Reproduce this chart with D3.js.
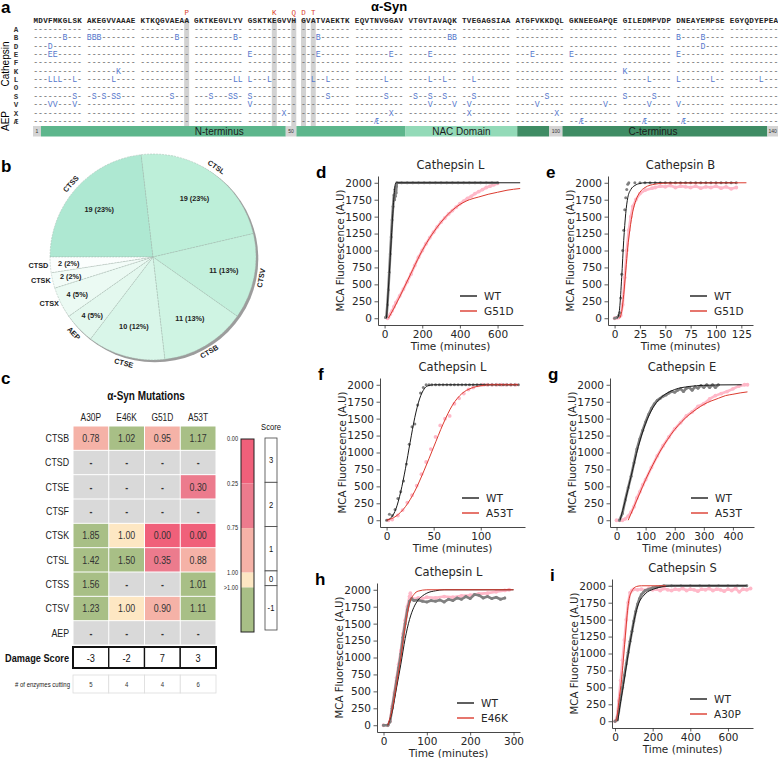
<!DOCTYPE html>
<html><head><meta charset="utf-8">
<script src="https://cdn.jsdelivr.net/npm/d3@7"></script>
<style>body{margin:0;background:#fff}svg{display:block}</style>
</head><body><svg id="fig" width="778" height="758"></svg>
<script>
// ================= DATA =================
// Panel a
const seqBlocks = ["MDVFMKGLSK","AKEGVVAAAE","KTKQGVAEAA","GKTKEGVLYV","GSKTKEGVVH","GVATVAEKTK","EQVTNVGGAV","VTGVTAVAQK","TVEGAGSIAA","ATGFVKKDQL","GKNEEGAPQE","GILEDMPVDP","DNEAYEMPSE","EGYQDYEPEA"];
const enzymeRows = ["A","B","D","E","F","K","L","O","S","V","X","Æ"];
const cleavagePositions = [
  [],
  [7,11,12,13,28,39,54,79,80,121,126],
  [4,126],
  [4,5,41,54,68,75,94,101,121],
  [],
  [17,111],
  [4,5,6,9,16,39,40,41,45,53,56,67,75,78,83,116,121,128,137],
  [],
  [9,12,14,16,17,27,34,38,39,41,56,67,72,75,78,83,97,111,117],
  [4,5,9,41,75,80,82,95,108,116,121],
  [48,68,82,99],
  [65,103,115,122]
];
const mutPositions = [30,46,50,51,53];
const mutLetters = ["P","K","Q","D","T"];
const domainStarts = [1,2.5,48.5,50.5,71,92,98,100.5,139];
const domainEnds   = [2.5,48.5,50.5,71,92,98,100.5,139,141];
const domainKinds  = ["box","N","box","N","NAC","C","box","C","box"];
const domainBoxText = ["1","","50","","","","100","","140"];
const domainLabels = ["N-terminus","NAC Domain","C-terminus"];
const domainLabelAt = [36,81.5,117.5];

// Panel b
const pieLabels = ["CTSS","CTSL","CTSV","CTSB","CTSE","AEP","CTSX","CTSK","CTSD"];
const pieValues = [19,19,11,11,10,4,4,2,2];

// Panel c
const mutations = ["A30P","E46K","G51D","A53T"];
const enzymesC = ["CTSB","CTSD","CTSE","CTSF","CTSK","CTSL","CTSS","CTSV","AEP"];
const ratios = [
  [0.78,1.02,0.95,1.17],
  [null,null,null,null],
  [null,null,null,0.30],
  [null,null,null,null],
  [1.85,1.00,0.00,0.00],
  [1.42,1.50,0.35,0.88],
  [1.56,null,null,1.01],
  [1.23,1.00,0.90,1.11],
  [null,null,null,null]
];
const damageScore = [-3,-2,7,3];
const enzymesCutting = [5,4,4,6];
const cbLabels = ["0.00","0.25","0.75","1.00",">1.00"];
const scoreLabels = ["3","2","1","0","-1"];
const yTicksKin = [0,250,500,750,1000,1250,1500,1750,2000];

// Panel d  Cathepsin L  WT vs G51D
const dWTPts = [[5,10],[10,30],[15,200],[20,420],[25,680],[30,950],[35,1200],[40,1450],[45,1650],[50,1820],[53,1750],[55,1900],[57,1800],[59,1930],[61,1850],[63,1950],[65,2000],[90,2000],[120,2000],[150,2000],[180,2000],[210,2000],[240,2000],[270,2000],[300,2000],[330,2000],[360,2000],[390,2000],[420,2000],[450,2000],[480,2000],[510,2000],[540,2000],[570,2000],[600,2000]];
const dWTFit = [[10,0],[20,430],[30,900],[40,1380],[50,1800],[57,1980],[62,2000],[720,2000]];
const dMutPts = [[15,0],[20,10],[30,60],[40,110],[50,170],[60,230],[80,330],[100,430],[120,540],[140,650],[160,780],[180,900],[200,1000],[220,1100],[240,1190],[260,1270],[280,1350],[300,1420],[320,1480],[340,1540],[360,1590],[380,1640],[400,1690],[420,1730],[440,1770],[460,1800],[480,1840],[500,1870],[520,1900],[540,1930],[560,1950],[580,1970],[600,1990]];
const dMutFit = [[20,0],[50,150],[100,430],[150,720],[200,1000],[250,1230],[300,1420],[350,1570],[400,1680],[450,1750],[500,1790],[550,1830],[600,1860],[650,1890],[720,1915]];

// Panel e  Cathepsin B  WT vs G51D
const eWTPts = [[0,0],[2,10],[4,40],[5,80],[6,300],[7,650],[8,1000],[9,1300],[10,1600],[11,1780],[12,1900],[13,1980],[14,2000],[20,2000],[25,2000],[30,2000],[35,2000],[40,2000],[45,2000],[50,2000],[55,2000],[60,2000],[65,2000],[70,2000],[75,2000],[80,2000],[85,2000],[90,2000],[95,2000],[100,2000],[105,2000],[110,2000],[115,2000],[120,2000]];
const eWTFit = [[3,0],[5,150],[7,600],[9,1150],[11,1550],[13,1780],[16,1900],[20,1960],[25,1990],[30,2000],[120,2000]];
const eMutPts = [[0,0],[2,5],[4,10],[6,40],[8,200],[10,600],[12,1000],[14,1300],[16,1500],[18,1650],[21,1750],[25,1840],[30,1890],[37,1920],[40,1930],[45,1950],[50,1940],[55,1960],[60,1930],[65,1950],[70,1940],[75,1930],[80,1950],[85,1920],[90,1940],[95,1930],[100,1950],[105,1920],[110,1940],[115,1910],[120,1930]];
const eMutFit = [[5,0],[7,100],[9,350],[11,700],[13,1050],[15,1300],[18,1580],[21,1740],[25,1860],[30,1930],[40,1980],[50,1995],[130,2000]];

// Panel f  Cathepsin L  WT vs A53T
const fWTPts = [[0,0],[3,90],[6,70],[9,160],[12,320],[15,420],[18,580],[21,830],[24,1120],[27,1380],[30,1420],[33,1700],[36,1880],[39,1960],[42,2000],[45,2000],[48,2000],[52,2000],[56,2000],[60,2000],[64,2000],[68,2000],[72,2000],[76,2000],[80,2000],[84,2000],[88,2000],[92,2000],[96,2000],[100,2000],[104,2000],[108,2000],[112,2000],[116,2000],[120,2000],[124,2000],[128,2000],[132,2000],[136,2000],[140,2000]];
const fWTFit = [[0,0],[5,40],[10,170],[15,420],[20,760],[25,1150],[30,1520],[35,1790],[40,1940],[45,1990],[50,2000],[140,2000]];
const fMutPts = [[2,0],[6,10],[12,70],[17,150],[22,260],[27,370],[32,510],[37,680],[42,860],[47,1050],[52,1230],[57,1400],[62,1500],[67,1540],[72,1720],[77,1800],[82,1870],[87,1930],[92,1960],[97,1990],[102,2000],[107,2000],[112,2000],[117,2000],[122,2000],[127,2000],[132,2000],[137,2000]];
const fMutFit = [[0,0],[10,60],[20,200],[30,430],[40,740],[50,1080],[60,1420],[70,1700],[80,1870],[90,1950],[100,1985],[110,2000],[140,2000]];

// Panel g  Cathepsin E  WT vs A53T
const gWTPts = [[10,0],[20,100],[30,300],[40,480],[50,650],[60,850],[70,1050],[80,1200],[90,1330],[100,1450],[110,1560],[120,1650],[130,1720],[140,1770],[150,1800],[160,1830],[170,1850],[180,1880],[190,1900],[200,1890],[210,1920],[220,1940],[230,1900],[240,1950],[250,1960],[260,1920],[270,1970],[280,1950],[290,1990],[300,1960],[310,2000],[320,1960],[330,2000],[340,1960],[350,2000]];
const gWTFit = [[12,0],[30,290],[50,650],[75,1090],[100,1430],[125,1660],[150,1800],[175,1880],[200,1930],[250,1975],[300,1992],[350,1998],[430,2000]];
const gMutPts = [[0,0],[10,0],[20,0],[30,20],[40,60],[50,120],[60,200],[70,330],[80,420],[90,520],[100,600],[120,780],[140,950],[160,1100],[180,1230],[200,1350],[220,1440],[240,1540],[260,1600],[280,1680],[300,1720],[320,1790],[340,1840],[360,1870],[380,1900],[400,1940],[420,1980],[440,2000],[450,2000]];
const gMutFit = [[40,0],[60,200],[80,400],[100,600],[125,820],[150,1020],[175,1190],[200,1340],[225,1460],[250,1560],[275,1640],[300,1710],[325,1760],[350,1800],[375,1840],[400,1860],[425,1880],[450,1895]];

// Panel h  Cathepsin L  WT vs E46K
const hWTPts = [[0,0],[10,0],[15,50],[20,250],[25,450],[30,650],[35,850],[40,1050],[45,1300],[50,1500],[55,1700],[60,1830],[65,1870],[70,1840],[80,1850],[90,1830],[100,1820],[110,1840],[120,1830],[130,1850],[140,1820],[150,1860],[160,1840],[170,1880],[180,1860],[190,1900],[200,1870],[210,1930],[220,1920],[230,1880],[240,1900],[250,1870],[260,1890],[270,1860],[280,1880]];
const hWTFit = [[10,0],[20,200],[30,550],[40,900],[50,1280],[60,1560],[70,1740],[80,1850],[90,1910],[100,1950],[120,1985],[140,2000],[300,2000]];
const hMutPts = [[0,0],[10,0],[15,60],[20,280],[25,480],[30,700],[35,900],[40,1100],[45,1350],[50,1550],[55,1750],[60,1900],[62,1950],[65,1880],[70,1860],[80,1880],[90,1870],[100,1890],[120,1880],[140,1900],[160,1890],[180,1910],[200,1920],[220,1940],[240,1950],[260,1970],[280,1990],[290,2000]];
const hMutFit = [[10,0],[20,230],[30,600],[40,1000],[50,1450],[60,1800],[70,1930],[80,1980],[100,2000],[300,2000]];

// Panel i  Cathepsin S  WT vs A30P
const iWTPts = [[0,0],[10,20],[20,150],[30,330],[40,500],[50,680],[60,850],[70,1020],[80,1180],[90,1330],[100,1480],[110,1620],[120,1730],[130,1810],[140,1870],[150,1900],[160,1930],[180,1950],[200,1970],[220,1980],[240,1990],[260,2000],[300,2000],[350,2000],[400,2000],[450,2000],[500,2000],[550,2000],[600,2000],[650,2000],[700,2000]];
const iWTFit = [[15,0],[25,200],[45,540],[80,1160],[115,1650],[160,1880],[205,1950],[260,1990],[320,2000],[700,2000]];
const iMutPts = [[0,0],[10,50],[20,300],[30,600],[40,900],[50,1200],[60,1500],[70,1750],[80,1900],[90,1930],[100,1950],[120,1940],[140,1950],[160,1930],[180,1960],[200,1940],[220,1950],[240,1930],[260,1960],[280,1940],[300,1930],[320,1950],[340,1940],[360,1960],[380,1930],[400,1950],[420,1940],[440,1920],[460,1950],[480,1940],[500,1960],[520,1930],[540,1950],[560,1940],[580,1920],[600,1950],[620,1930],[640,1960],[660,1910],[680,1950],[700,1940],[720,1960]];
const iMutFit = [[5,0],[12,80],[20,280],[35,620],[53,1200],[71,1740],[88,1915],[115,1990],[140,2000],[270,2000]];

// ================= DRAWING =================
const svg = d3.select('#fig');
const SANS = "'Liberation Sans', Arial, sans-serif";
const MONO = "'Liberation Mono','DejaVu Sans Mono',monospace";
const DJV = "'DejaVu Sans', sans-serif";

function panelLetter(t, x, y) {
  svg.append('text').attr('x', x).attr('y', y).text(t)
    .attr('font-family', SANS).attr('font-weight', 'bold').attr('font-size', 17).attr('fill', '#000');
}
// condensed text (horizontally squeezed Liberation Sans)
function ntext(g, x, y, s, size, anchor, weight, fill) {
  return g.append('text').attr('transform', `translate(${x},${y}) scale(0.8,1)`)
    .attr('text-anchor', anchor || 'middle').attr('font-family', SANS)
    .attr('font-weight', weight || 'normal').attr('font-size', size).attr('fill', fill || '#222').text(s);
}

// ---------- Panel a ----------
(function () {
  const g = svg.append('g');
  panelLetter('a', 1, 13);
  g.append('text').attr('x', 389).attr('y', 11).attr('text-anchor', 'middle')
    .attr('font-family', SANS).attr('font-weight', 'bold').attr('font-size', 13).text('α-Syn');
  const seq = seqBlocks.join('').split('');
  const colOf = r => (r - 1) + Math.floor((r - 1) / 10);
  const seqX = d3.scaleLinear().domain([0, 152]).range([35.7, 775.9]);
  const rowY = d3.scaleBand().domain(enzymeRows).range([25, 125.5]);

  g.selectAll('rect.mb').data(mutPositions).join('rect')
    .attr('x', d => seqX(colOf(d)) - 2.5).attr('width', 5).attr('y', 19).attr('height', 107)
    .attr('fill', '#d2d2d2');
  g.selectAll('text.ml').data(mutPositions).join('text')
    .attr('x', d => seqX(colOf(d))).attr('y', 15).attr('text-anchor', 'middle')
    .attr('font-family', MONO).attr('font-size', 7.5).attr('fill', '#d9412b')
    .text((d, i) => mutLetters[i]);
  g.selectAll('text.hs').data(seq).join('text')
    .attr('x', (d, i) => seqX(colOf(i + 1))).attr('y', 22.5).attr('text-anchor', 'middle')
    .attr('font-family', MONO).attr('font-size', 7.6).attr('font-weight', 'bold').attr('fill', '#222')
    .text(d => d);
  enzymeRows.forEach((en, ri) => {
    const cuts = new Set(cleavagePositions[ri]);
    const yc = rowY(en) + rowY.bandwidth() / 2;
    g.append('text').attr('x', 16).attr('y', yc + 2.6).attr('text-anchor', 'middle')
      .attr('font-family', MONO).attr('font-size', 7.5).attr('font-weight', 'bold').attr('fill', '#333').text(en);
    const chars = d3.range(1, 141).map(r => ({ r, c: cuts.has(r) ? en : '-' }));
    g.selectAll(null).data(chars).join('text')
      .attr('x', d => seqX(colOf(d.r))).attr('y', yc + 2.6).attr('text-anchor', 'middle')
      .attr('font-family', MONO).attr('font-size', 8.2)
      .attr('fill', d => d.c === '-' ? '#6a6a6a' : '#5577cc')
      .text(d => d.c);
  });
  g.append('text').attr('transform', 'translate(9,64) rotate(-90)').attr('text-anchor', 'middle')
    .attr('font-family', SANS).attr('font-size', 10).text('Cathepsin');
  g.append('text').attr('transform', 'translate(9,121) rotate(-90)').attr('text-anchor', 'middle')
    .attr('font-family', SANS).attr('font-size', 10).text('AEP');
  const barX = d3.scaleLinear().domain([1, 141]).range([33, 778]);
  const domColor = { box: '#d4d4d4', N: '#5db68c', NAC: '#93dab8', C: '#3f8c64' };
  domainStarts.forEach((s, i) => {
    g.append('rect').attr('x', barX(s)).attr('width', barX(domainEnds[i]) - barX(s))
      .attr('y', 126).attr('height', 10.5).attr('fill', domColor[domainKinds[i]]);
    if (domainBoxText[i]) {
      g.append('text').attr('x', (barX(s) + barX(domainEnds[i])) / 2).attr('y', 133.2).attr('text-anchor', 'middle')
        .attr('font-family', SANS).attr('font-size', 5).attr('fill', '#333').text(domainBoxText[i]);
    }
  });
  domainLabels.forEach((l, i) => {
    g.append('text').attr('x', barX(domainLabelAt[i])).attr('y', 134.8).attr('text-anchor', 'middle')
      .attr('font-family', SANS).attr('font-size', 10).attr('fill', '#1c1c1c').text(l);
  });
})();

// ---------- Panel b ----------
(function () {
  panelLetter('b', 1, 172);
  const cx = 153, cy = 257, R = 103;
  const g = svg.append('g').attr('transform', `translate(${cx},${cy})`);
  const pieColors = ['#aee8d2', '#bdefd9', '#c3f0dc', '#cff4e3', '#d9f6e9', '#e3f8ee', '#ebfaf3', '#f3fcf8', '#fbfefd'];
  const total = d3.sum(pieValues);
  const arcs = d3.pie().sort(null).startAngle(-Math.PI / 2).endAngle(1.5 * Math.PI)(pieValues);
  const arc = d3.arc().innerRadius(0).outerRadius(R);
  g.append('circle').attr('cx', 1.8).attr('cy', 1.8).attr('r', R + 0.5).attr('fill', '#9c9c9c');
  g.selectAll('path').data(arcs).join('path').attr('d', arc)
    .attr('fill', (d, i) => pieColors[i]).attr('stroke', '#9fb5ab').attr('stroke-width', 0.45)
    .attr('stroke-dasharray', '2,1');
  arcs.forEach((a, i) => {
    const mid = (a.startAngle + a.endAngle) / 2;
    const rr = pieValues[i] >= 10 ? 0.7 * R : 0.82 * R;
    g.append('text').attr('x', Math.sin(mid) * rr).attr('y', -Math.cos(mid) * rr + 2.5)
      .attr('text-anchor', 'middle').attr('font-family', SANS).attr('font-weight', 'bold')
      .attr('font-size', 7.3).attr('fill', '#222')
      .text(`${pieValues[i]} (${Math.round(pieValues[i] / total * 100)}%)`);
    const degN = (((mid * 180 / Math.PI) % 360) + 360) % 360;
    if (degN > 235 && degN < 300) {
      const lr = R + 2;
      g.append('text').attr('x', Math.sin(mid) * lr).attr('y', -Math.cos(mid) * lr + 2.5)
        .attr('text-anchor', 'end').attr('font-family', SANS).attr('font-weight', 'bold')
        .attr('font-size', 7.3).attr('fill', '#222').text(pieLabels[i]);
    } else {
      const lr = R + 7;
      let rot = degN;
      if (degN > 90 && degN < 270) rot = degN - 180;
      g.append('text').attr('transform', `translate(${Math.sin(mid) * lr},${-Math.cos(mid) * lr}) rotate(${rot})`)
        .attr('text-anchor', 'middle').attr('dy', '0.35em').attr('font-family', SANS).attr('font-weight', 'bold')
        .attr('font-size', 7.3).attr('fill', '#222').text(pieLabels[i]);
    }
  });
})();

// ---------- Panel c ----------
(function () {
  panelLetter('c', 1, 384);
  const g = svg.append('g');
  ntext(g, 146, 400, 'α-Syn Mutations', 12.5, 'middle', 'bold', '#111');
  const hmX = d3.scaleBand().domain(mutations).range([73, 216]);
  const hmY = d3.scaleBand().domain(enzymesC).range([426, 645]);
  const thr = d3.scaleThreshold().domain([0.25, 0.75, 1.0, 1.000001])
    .range(['#f0607a', '#ec7b8d', '#f5b2a7', '#fde7c3', '#a8bf86']);
  const colorOf = v => v === null ? '#d9d9d9' : thr(v);
  mutations.forEach(m => ntext(g, hmX(m) + hmX.bandwidth() / 2, 421, m, 10.5));
  enzymesC.forEach((e, ri) => {
    ntext(g, 69, hmY(e) + hmY.bandwidth() / 2 + 3.8, e, 11, 'end');
    mutations.forEach((m, ci) => {
      const v = ratios[ri][ci];
      g.append('rect').attr('x', hmX(m) + 0.5).attr('y', hmY(e) + 0.5)
        .attr('width', hmX.bandwidth() - 1).attr('height', hmY.bandwidth() - 1).attr('fill', colorOf(v));
      ntext(g, hmX(m) + hmX.bandwidth() / 2, hmY(e) + hmY.bandwidth() / 2 + 3.8,
        v === null ? '-' : v.toFixed(2), 11, 'middle', v === null ? 'bold' : 'normal', '#333');
    });
  });
  ntext(g, 69, 661.5, 'Damage Score', 11.5, 'end', 'bold', '#111');
  mutations.forEach((m, ci) => {
    g.append('rect').attr('x', hmX(m)).attr('y', 647).attr('width', hmX.bandwidth()).attr('height', 21)
      .attr('fill', '#fff').attr('stroke', '#111').attr('stroke-width', 1.3);
    ntext(g, hmX(m) + hmX.bandwidth() / 2, 662, String(damageScore[ci]), 11.5, 'middle', 'normal', '#111');
  });
  g.append('rect').attr('x', 73).attr('y', 647).attr('width', 143).attr('height', 21)
    .attr('fill', 'none').attr('stroke', '#111').attr('stroke-width', 2);
  ntext(g, 70, 687, '# of enzymes cutting', 7.5, 'end');
  mutations.forEach((m, ci) => {
    g.append('rect').attr('x', hmX(m)).attr('y', 675).attr('width', hmX.bandwidth()).attr('height', 18)
      .attr('fill', '#fff').attr('stroke', '#dcdcdc').attr('stroke-width', 0.8);
    ntext(g, hmX(m) + hmX.bandwidth() / 2, 687, String(enzymesCutting[ci]), 7.5, 'middle', 'normal', '#333');
  });
  const wts = [3, 3, 3, 1, 3];
  const cbColors = ['#f0607a', '#ec7b8d', '#f5b2a7', '#fde7c3', '#a8bf86'];
  const cum = [0]; wts.forEach(w => cum.push(cum[cum.length - 1] + w));
  const cbY = d3.scaleLinear().domain([0, 13]).range([439, 632]);
  const sbY = d3.scaleLinear().domain([0, 13]).range([438, 630]);
  wts.forEach((w, i) => {
    g.append('rect').attr('x', 241).attr('width', 13).attr('y', cbY(cum[i])).attr('height', cbY(cum[i + 1]) - cbY(cum[i]))
      .attr('fill', cbColors[i]);
    g.append('rect').attr('x', 265).attr('width', 12).attr('y', sbY(cum[i])).attr('height', sbY(cum[i + 1]) - sbY(cum[i]))
      .attr('fill', '#fff').attr('stroke', '#444').attr('stroke-width', 0.8);
    ntext(g, 271, (sbY(cum[i]) + sbY(cum[i + 1])) / 2 + 3.3, scoreLabels[i], 9.5, 'middle', 'normal', '#111');
  });
  g.append('rect').attr('x', 241).attr('width', 13).attr('y', 439).attr('height', 193)
    .attr('fill', 'none').attr('stroke', '#222').attr('stroke-width', 1);
  const cbLabelY = [cbY(0), cbY(3), cbY(6), cbY(9), cbY(10)];
  cbLabels.forEach((l, i) => ntext(g, 238, cbLabelY[i] + (i === 4 ? 3 : 2), l, 7, 'end'));
  ntext(g, 271, 430, 'Score', 9.5, 'middle', 'normal', '#111');
})();

// ---------- Panels d-i ----------
const kinPanels = [
  { id: 'd', left: 378, right: 523, top: 176, bottom: 325, xd: [-35, 735], xt: [0, 200, 400, 600], title: 'Cathepsin L', mut: 'G51D', wp: dWTPts, wf: dWTFit, mp: dMutPts, mf: dMutFit, dense: [true, true] },
  { id: 'e', left: 608, right: 753, top: 176, bottom: 325, xd: [-6.5, 136.5], xt: [0, 25, 50, 75, 100, 125], title: 'Cathepsin B', mut: 'G51D', wp: eWTPts, wf: eWTFit, mp: eMutPts, mf: eMutFit, dense: [false, true] },
  { id: 'f', left: 380, right: 525, top: 378, bottom: 527, xd: [-7, 147], xt: [0, 50, 100], title: 'Cathepsin L', mut: 'A53T', wp: fWTPts, wf: fWTFit, mp: fMutPts, mf: fMutFit, dense: [false, false] },
  { id: 'g', left: 610, right: 754, top: 378, bottom: 527, xd: [-22.5, 472.5], xt: [0, 100, 200, 300, 400], title: 'Cathepsin E', mut: 'A53T', wp: gWTPts, wf: gWTFit, mp: gMutPts, mf: gMutFit, dense: [true, true] },
  { id: 'h', left: 377, right: 520, top: 583, bottom: 732, xd: [-15, 315], xt: [0, 100, 200, 300], title: 'Cathepsin L', mut: 'E46K', wp: hWTPts, wf: hWTFit, mp: hMutPts, mf: hMutFit, dense: [true, true] },
  { id: 'i', left: 612, right: 753, top: 579, bottom: 728, xd: [-16, 733], xt: [0, 200, 400, 600], title: 'Cathepsin S', mut: 'A30P', wp: iWTPts, wf: iWTFit, mp: iMutPts, mf: iMutFit, dense: [true, true] }
];

const GRAY = '#808080', PINK = '#ffb8c8', BLACK = '#1a1a1a', RED = '#dc3b2f';

kinPanels.forEach(p => {
  const g = svg.append('g');
  const x = d3.scaleLinear().domain(p.xd).range([p.left, p.right]);
  const y = d3.scaleLinear().domain([-100, 2100]).range([p.bottom, p.top]);
  const line = d3.line().x(d => x(d[0])).y(d => y(d[1])).curve(d3.curveMonotoneX);
  const drawPts = (pts, color, dense, r) => {
    if (dense) {
      g.append('path').attr('d', d3.line().x(d => x(d[0])).y(d => y(d[1]))(pts))
        .attr('fill', 'none').attr('stroke', color).attr('stroke-width', 2.6)
        .attr('stroke-linejoin', 'round').attr('stroke-linecap', 'round');
    }
    g.selectAll(null).data(pts).join('circle').attr('cx', d => x(d[0])).attr('cy', d => y(d[1]))
      .attr('r', r).attr('fill', color);
  };
  drawPts(p.mp, PINK, p.dense[1], 1.9);
  drawPts(p.wp, GRAY, p.dense[0], 1.5);
  g.append('path').attr('d', line(p.wf)).attr('fill', 'none').attr('stroke', BLACK).attr('stroke-width', 1);
  g.append('path').attr('d', line(p.mf)).attr('fill', 'none').attr('stroke', RED).attr('stroke-width', 1);

  const ax = g.append('g').attr('transform', `translate(0,${p.bottom})`)
    .call(d3.axisBottom(x).tickValues(p.xt).tickFormat(d3.format('d')).tickSize(3.5).tickSizeOuter(0).tickPadding(2.5));
  const ay = g.append('g').attr('transform', `translate(${p.left},0)`)
    .call(d3.axisLeft(y).tickValues(yTicksKin).tickFormat(d3.format('d')).tickSize(3.5).tickSizeOuter(0).tickPadding(2.5));
  [ax, ay].forEach(a => {
    a.selectAll('path.domain').attr('stroke', '#333').attr('stroke-width', 0.9);
    a.selectAll('line').attr('stroke', '#333').attr('stroke-width', 0.8);
    a.selectAll('text').attr('font-family', DJV).attr('font-size', 10.5).attr('fill', '#262626');
  });
  g.append('text').attr('x', (p.left + p.right) / 2).attr('y', p.top - 7).attr('text-anchor', 'middle')
    .attr('font-family', DJV).attr('font-size', 11.5).attr('fill', '#262626').text(p.title);
  g.append('text').attr('x', (p.left + p.right) / 2).attr('y', p.bottom + 25).attr('text-anchor', 'middle')
    .attr('font-family', DJV).attr('font-size', 10.5).attr('fill', '#262626').text('Time (minutes)');
  g.append('text').attr('transform', `translate(${p.left - 38},${(p.top + p.bottom) / 2}) rotate(-90)`)
    .attr('text-anchor', 'middle').attr('dy', '0.35em')
    .attr('font-family', DJV).attr('font-size', 10.2).attr('fill', '#262626').text('MCA Fluorescence (A.U)');
  const lg = [['WT', BLACK], [p.mut, RED]];
  lg.forEach((l, i) => {
    const ly = p.bottom - 29 + i * 15;
    g.append('line').attr('x1', p.right - 63).attr('x2', p.right - 46).attr('y1', ly).attr('y2', ly)
      .attr('stroke', l[1]).attr('stroke-width', 1.4);
    g.append('text').attr('x', p.right - 39).attr('y', ly + 4).attr('font-family', DJV)
      .attr('font-size', 10.5).attr('fill', '#262626').text(l[0]);
  });
  panelLetter(p.id, p.left - 62, p.top + 2);
});
</script></body></html>
